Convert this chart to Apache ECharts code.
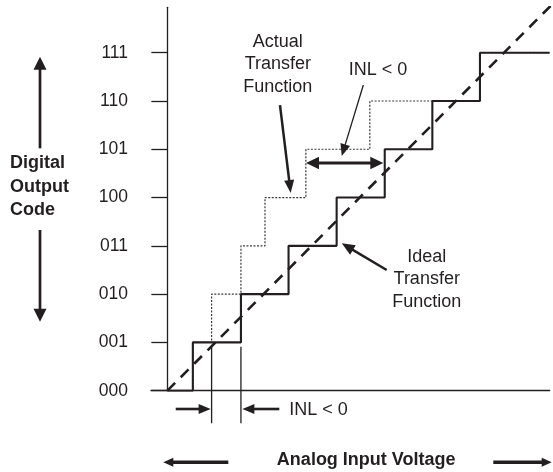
<!DOCTYPE html>
<html><head><meta charset="utf-8">
<script src="https://cdn.jsdelivr.net/npm/echarts@6/dist/echarts.min.js"></script>
<style>html,body{margin:0;padding:0;background:#fff}#c{width:553px;height:472px}</style>
</head><body><div id="c"></div>
<script>
// ---- data ----
const codeLabels = ['000','001','010','011','100','101','110','111'];
const codeValues = [0,1,2,3,4,5,6,7];
// input (in LSB) at which the output steps up to code 1..7
const idealTransitions  = [0.53, 1.53, 2.52, 3.52, 4.52, 5.51, 6.50];
const actualTransitions = [0.53, 0.92, 1.53, 2.03, 2.88, 4.21, 6.50];
const inputEnd = 7.95;
const idealLine = [[0, 0], [8, 8]];

function stairs(trans) {
  const pts = [[0, 0]];
  trans.forEach((t, i) => { pts.push([t, i]); pts.push([t, i + 1]); });
  pts.push([inputEnd, trans.length]);
  return pts;
}

const INK = '#231f20';
const FONT = 'Liberation Sans';
const FS = 18;

const chart = echarts.init(document.getElementById('c'), null, {renderer: 'canvas'});
chart.setOption({
  animation: false,
  grid: {left: 151, right: 3.3, top: 7.3, bottom: 81.3},
  xAxis: {
    type: 'value', min: -0.34, max: inputEnd,
    axisLine: {show: true, lineStyle: {color: INK, width: 1.3}},
    axisTick: {show: false}, axisLabel: {show: false}, splitLine: {show: false}
  },
  yAxis: {
    type: 'value', min: 0, max: 7.94,
    axisLine: {show: true, onZero: true, lineStyle: {color: INK, width: 1.3}},
    axisTick: {show: true, length: 16, customValues: codeValues, lineStyle: {color: INK, width: 1.3}},
    axisLabel: {customValues: codeValues, margin: 23, color: INK, fontFamily: FONT, fontSize: 17.5,
      formatter: v => codeLabels[Math.round(v)] || ''},
    splitLine: {show: false}
  },
  series: [
    {type: 'line', data: stairs(actualTransitions), symbol: 'none', z: 2,
     lineStyle: {color: '#3a3a3a', width: 1.2, type: [2, 1.5]}},
    {type: 'line', data: idealLine, symbol: 'none', z: 3,
     lineStyle: {color: INK, width: 2.6, type: [11, 8], cap: 'butt'}},
    {type: 'line', data: stairs(idealTransitions), symbol: 'none', z: 4,
     lineStyle: {color: INK, width: 2.1}}
  ]
});

// ---- annotations (positions in data units, converted through the chart's scales) ----
const px = p => chart.convertToPixel({gridIndex: 0}, p);
const g = [];
function text(str, p, opt) {
  g.push(Object.assign({type: 'text', x: p[0], y: p[1], z: 10,
    style: Object.assign({text: str, fill: INK, font: FS + 'px "' + FONT + '"',
      align: 'center', verticalAlign: 'middle', lineHeight: 22.5}, opt || {})}));
}
function head(tip, dir, len, w) {
  const nx = -dir[1], ny = dir[0];
  const bx = tip[0] - dir[0] * len, by = tip[1] - dir[1] * len;
  g.push({type: 'polygon', z: 10, shape: {points: [tip, [bx + nx * w / 2, by + ny * w / 2], [bx - nx * w / 2, by - ny * w / 2]]},
    style: {fill: INK}});
}
function arrow(a, b, lw, len, w, both) {
  const dx = b[0] - a[0], dy = b[1] - a[1], L = Math.hypot(dx, dy);
  const d = [dx / L, dy / L];
  const s = both ? [a[0] + d[0] * len * 0.8, a[1] + d[1] * len * 0.8] : a;
  const e = [b[0] - d[0] * len * 0.8, b[1] - d[1] * len * 0.8];
  g.push({type: 'line', z: 10, shape: {x1: s[0], y1: s[1], x2: e[0], y2: e[1]}, style: {stroke: INK, lineWidth: lw}});
  head(b, d, len, w);
  if (both) head(a, [-d[0], -d[1]], len, w);
}
function seg(a, b, lw) {
  g.push({type: 'line', z: 10, shape: {x1: a[0], y1: a[1], x2: b[0], y2: b[1]}, style: {stroke: INK, lineWidth: lw}});
}

text('Actual\nTransfer\nFunction', px([2.297, 6.759]));
arrow(px([2.342, 5.916]), px([2.565, 4.094]), 2.5, 13, 10);
text('INL < 0', px([4.38, 6.641]));
arrow(px([4.075, 6.33]), px([3.626, 4.86]), 1.3, 12, 10);
arrow(px([2.883, 4.715]), px([4.49, 4.715]), 3, 13, 12.5, true);
text('Ideal\nTransfer\nFunction', px([5.393, 2.307]));
arrow(px([4.561, 2.50]), px([3.626, 3.052]), 2.5, 13, 11);

const t2a = actualTransitions[1], t2i = idealTransitions[1];
seg(px([t2a, 0.911]), px([t2a, -0.675]), 1.3);
seg(px([t2i, 0.911]), px([t2i, -0.675]), 1.3);
arrow(px([0.174, -0.379]), px([t2a - 0.02, -0.379]), 2.6, 12, 10);
arrow(px([2.328, -0.379]), px([t2i + 0.03, -0.379]), 2.6, 12, 10);
text('INL < 0', px([2.536, -0.40]), {align: 'left'});

// axis titles and direction arrows
const BOLD = 'bold ' + FS + 'px "' + FONT + '"';
text('Digital\nOutput\nCode', [10, 187], {align: 'left', font: BOLD, lineHeight: 23.5});
arrow([40, 148.3], [40, 56.7], 2.7, 13, 13);
arrow([40, 230], [40, 321.7], 2.7, 13, 13);
text('Analog Input Voltage', [366.2, 460.5], {font: BOLD});
arrow([228.3, 462.3], [163.3, 462.3], 3.5, 10, 9);
arrow([493.3, 462.3], [551.7, 462.3], 3.5, 10, 9);

chart.setOption({graphic: {elements: g}});
</script>
</body></html>
